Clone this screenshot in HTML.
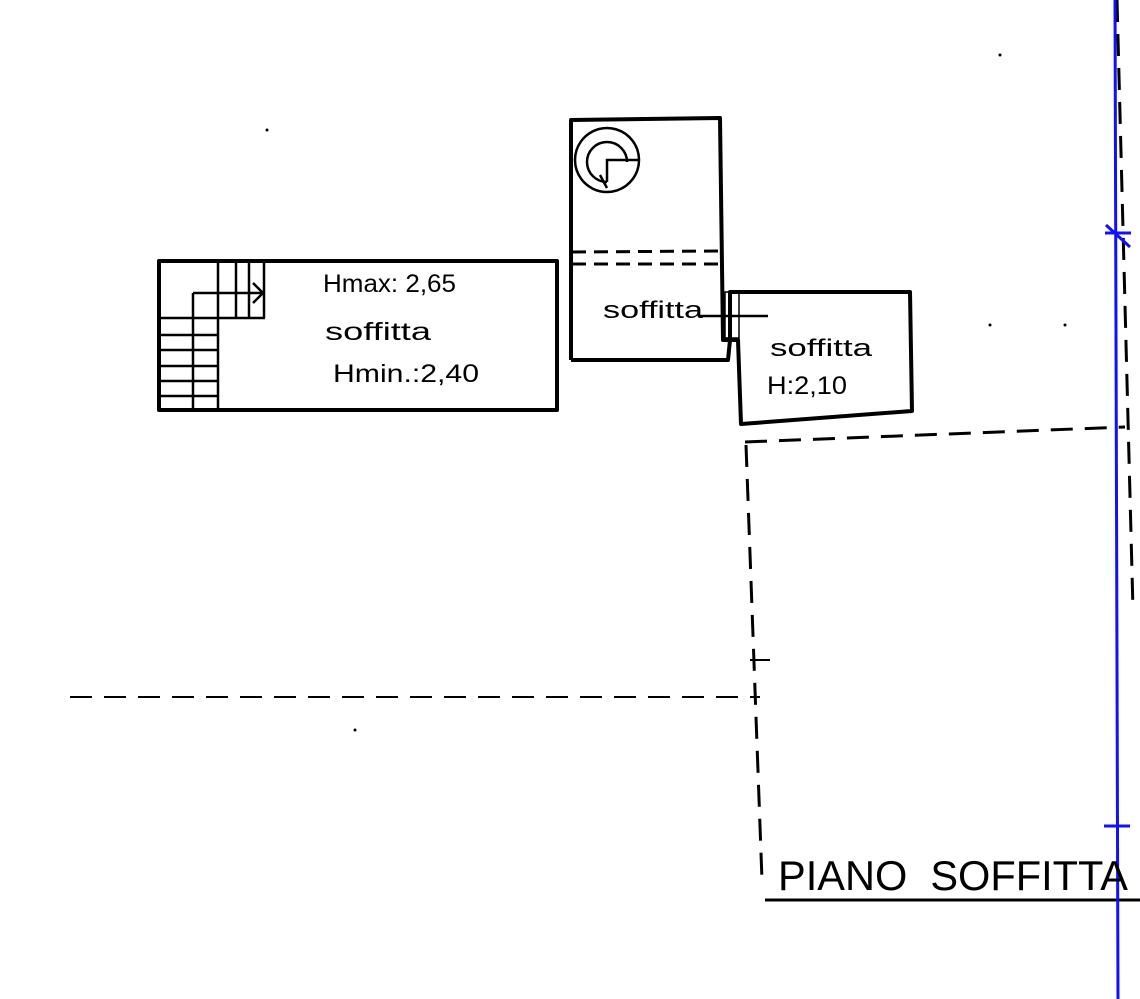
<!DOCTYPE html>
<html><head><style>html,body{margin:0;padding:0;background:#fff}svg{display:block}</style></head>
<body>
<svg width="1140" height="999" viewBox="0 0 1140 999" xmlns="http://www.w3.org/2000/svg">
<g stroke="#000" fill="none" stroke-width="4" stroke-linejoin="round">
<!-- left room -->
<rect x="159" y="261" width="398" height="149"/>
<!-- middle room -->
<polyline points="571,360 571,120 720,118 723,340 730,340 728,360 571,360"/>
<!-- right room -->
<polygon points="730,292 910,292 912,411 741,424 738,340 730,340"/>
</g>
<g stroke="#000" fill="none" stroke-width="2.5">
<!-- stairs -->
<line x1="218" y1="262" x2="218" y2="410"/>
<line x1="236" y1="262" x2="236" y2="318"/>
<line x1="249" y1="262" x2="249" y2="318"/>
<line x1="264" y1="262" x2="264" y2="318"/>
<line x1="160" y1="318" x2="265" y2="318"/>
<line x1="193" y1="293" x2="193" y2="410"/>
<line x1="193" y1="293" x2="262" y2="293"/>
<polyline points="253,283 263,293 253,303"/>
<line x1="160" y1="335" x2="218" y2="335"/>
<line x1="160" y1="350" x2="218" y2="350"/>
<line x1="160" y1="366" x2="218" y2="366"/>
<line x1="160" y1="381" x2="218" y2="381"/>
<line x1="160" y1="396" x2="218" y2="396"/>
<!-- spiral -->
<circle cx="607" cy="160" r="32" stroke-dasharray="40,0"/>
<path d="M607 182 A20 20 0 1 1 627 162" />
<polyline points="607,182 607,160 640,160"/>
<line x1="600" y1="175" x2="607" y2="188"/>
<!-- dashed in middle -->
<line x1="572" y1="252" x2="720" y2="251" stroke-dasharray="14,8" stroke-width="3"/>
<line x1="572" y1="264" x2="720" y2="264" stroke-dasharray="14,8" stroke-width="3"/>
<!-- door -->
<line x1="700" y1="316" x2="768" y2="316"/>
<rect x="725" y="292" width="14" height="46" stroke-width="1.5"/>
</g>
<g stroke="#000" fill="none" stroke-width="3" stroke-dasharray="22,12">
<line x1="745" y1="442" x2="1125" y2="427"/>
<line x1="746" y1="445" x2="762" y2="880"/>
<line x1="70" y1="697" x2="760" y2="697" stroke-width="2"/>
<line x1="1117" y1="0" x2="1133" y2="610" stroke-width="3"/>
</g>
<line x1="765" y1="900" x2="1140" y2="900" stroke="#000" stroke-width="3"/>
<line x1="750" y1="660" x2="770" y2="660" stroke="#000" stroke-width="2"/>
<g fill="#000">
<circle cx="267" cy="130" r="1.5"/><circle cx="1000" cy="55" r="1.5"/>
<circle cx="990" cy="325" r="1.5"/><circle cx="1065" cy="325" r="1.5"/><circle cx="355" cy="730" r="1.5"/>
</g>
<!-- blue line -->
<g stroke="#1010ff" stroke-width="3" fill="none">
<line x1="1115" y1="0" x2="1118" y2="999"/>
<line x1="1105" y1="233" x2="1131" y2="233"/>
<line x1="1106" y1="225" x2="1130" y2="247"/>
<line x1="1104" y1="826" x2="1130" y2="826"/>
</g>
<g font-family="Liberation Sans, sans-serif" fill="#000">
<text x="323" y="292" font-size="25" textLength="133" lengthAdjust="spacingAndGlyphs">Hmax: 2,65</text>
<text x="325" y="340" font-size="25" textLength="106" lengthAdjust="spacingAndGlyphs">soffitta</text>
<text x="333" y="382" font-size="25" textLength="146" lengthAdjust="spacingAndGlyphs">Hmin.:2,40</text>
<text x="603" y="318" font-size="24" textLength="100" lengthAdjust="spacingAndGlyphs">soffitta</text>
<text x="770" y="356" font-size="24" textLength="102" lengthAdjust="spacingAndGlyphs">soffitta</text>
<text x="767" y="394" font-size="25" textLength="80" lengthAdjust="spacingAndGlyphs">H:2,10</text>
<text x="778" y="890" font-size="42" textLength="350" lengthAdjust="spacingAndGlyphs" xml:space="preserve">PIANO  SOFFITTA</text>
</g>
</svg>
</body></html>
